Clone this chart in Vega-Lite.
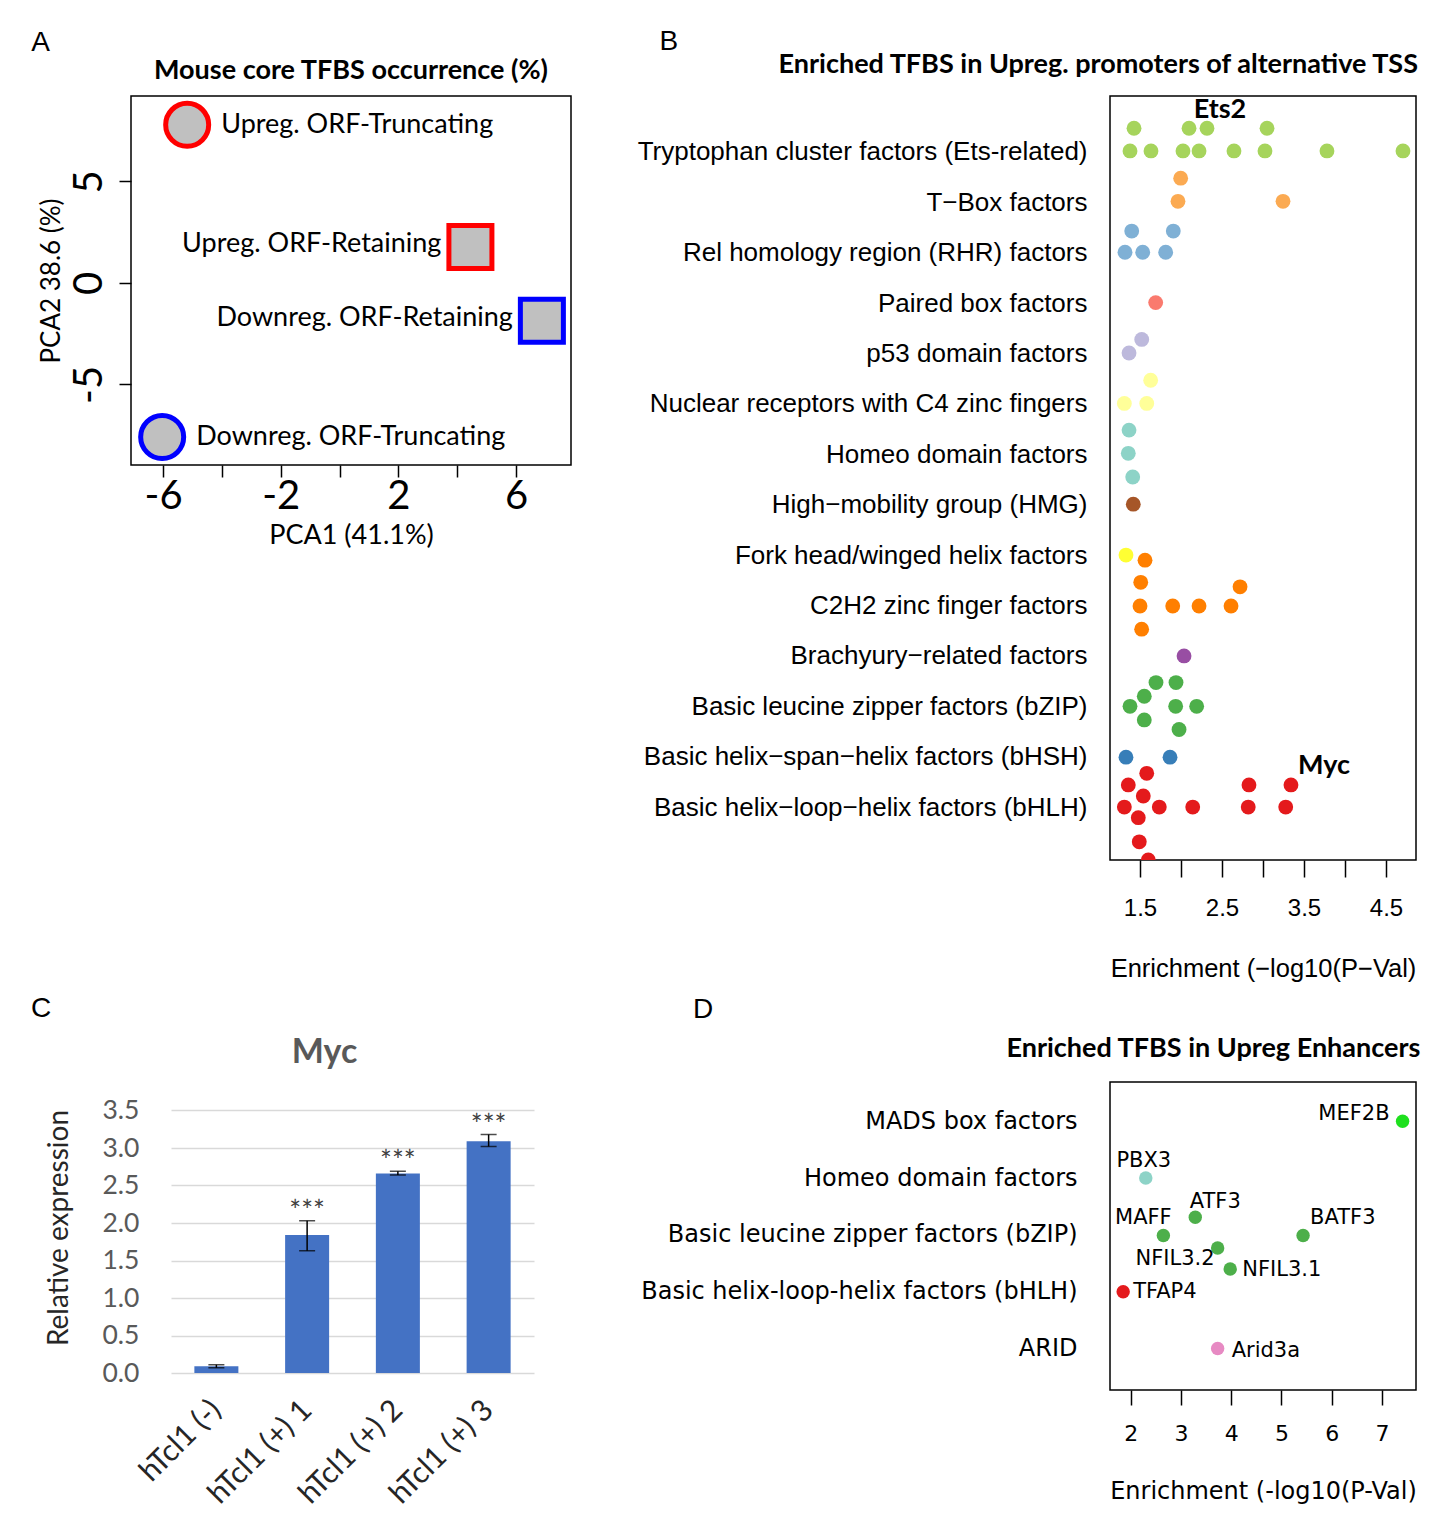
{
  "$schema": "https://vega.github.io/schema/vega-lite/v6.json",
  "background": "white",
  "padding": {"left": 30, "top": 28, "right": 5, "bottom": 5},
  "spacing": 12,
  "resolve": {"scale": {"color": "independent", "shape": "independent", "stroke": "independent"}},
  "datasets": {
    "pca": [
      {"label": "Upreg. ORF-Truncating", "direction": "Upreg", "form": "Truncating", "pc1": -5.18, "pc2": 7.78},
      {"label": "Upreg. ORF-Retaining", "direction": "Upreg", "form": "Retaining", "pc1": 4.45, "pc2": 1.77},
      {"label": "Downreg. ORF-Retaining", "direction": "Downreg", "form": "Retaining", "pc1": 6.88, "pc2": -1.87},
      {"label": "Downreg. ORF-Truncating", "direction": "Downreg", "form": "Truncating", "pc1": -6.03, "pc2": -7.59}
    ],
    "tfbs": [
      {"family": "Tryptophan cluster factors (Ets-related)", "enrich": 1.427, "pos": 14.47},
      {"family": "Tryptophan cluster factors (Ets-related)", "enrich": 2.098, "pos": 14.47},
      {"family": "Tryptophan cluster factors (Ets-related)", "enrich": 2.317, "pos": 14.47, "tf": "Ets2"},
      {"family": "Tryptophan cluster factors (Ets-related)", "enrich": 3.049, "pos": 14.47},
      {"family": "Tryptophan cluster factors (Ets-related)", "enrich": 1.378, "pos": 14.02},
      {"family": "Tryptophan cluster factors (Ets-related)", "enrich": 1.634, "pos": 14.02},
      {"family": "Tryptophan cluster factors (Ets-related)", "enrich": 2.024, "pos": 14.02},
      {"family": "Tryptophan cluster factors (Ets-related)", "enrich": 2.22, "pos": 14.02},
      {"family": "Tryptophan cluster factors (Ets-related)", "enrich": 2.646, "pos": 14.02},
      {"family": "Tryptophan cluster factors (Ets-related)", "enrich": 3.024, "pos": 14.02},
      {"family": "Tryptophan cluster factors (Ets-related)", "enrich": 3.78, "pos": 14.02},
      {"family": "Tryptophan cluster factors (Ets-related)", "enrich": 4.707, "pos": 14.02},
      {"family": "T−Box factors", "enrich": 1.996, "pos": 13.48},
      {"family": "T−Box factors", "enrich": 1.963, "pos": 13.02},
      {"family": "T−Box factors", "enrich": 3.244, "pos": 13.02},
      {"family": "Rel homology region (RHR) factors", "enrich": 1.399, "pos": 12.43},
      {"family": "Rel homology region (RHR) factors", "enrich": 1.906, "pos": 12.43},
      {"family": "Rel homology region (RHR) factors", "enrich": 1.317, "pos": 12.01},
      {"family": "Rel homology region (RHR) factors", "enrich": 1.533, "pos": 12.01},
      {"family": "Rel homology region (RHR) factors", "enrich": 1.813, "pos": 12.01},
      {"family": "Paired box factors", "enrich": 1.691, "pos": 11.01},
      {"family": "p53 domain factors", "enrich": 1.521, "pos": 10.28},
      {"family": "p53 domain factors", "enrich": 1.366, "pos": 10.01},
      {"family": "Nuclear receptors with C4 zinc fingers", "enrich": 1.63, "pos": 9.47},
      {"family": "Nuclear receptors with C4 zinc fingers", "enrich": 1.309, "pos": 9.01},
      {"family": "Nuclear receptors with C4 zinc fingers", "enrich": 1.582, "pos": 9.01},
      {"family": "Homeo domain factors", "enrich": 1.366, "pos": 8.48},
      {"family": "Homeo domain factors", "enrich": 1.357, "pos": 8.02},
      {"family": "Homeo domain factors", "enrich": 1.411, "pos": 7.55},
      {"family": "High−mobility group (HMG)", "enrich": 1.418, "pos": 7.01},
      {"family": "Fork head/winged helix factors", "enrich": 1.329, "pos": 6.0},
      {"family": "C2H2 zinc finger factors", "enrich": 1.561, "pos": 5.9},
      {"family": "C2H2 zinc finger factors", "enrich": 1.509, "pos": 5.46},
      {"family": "C2H2 zinc finger factors", "enrich": 2.72, "pos": 5.37},
      {"family": "C2H2 zinc finger factors", "enrich": 1.5, "pos": 4.99},
      {"family": "C2H2 zinc finger factors", "enrich": 1.899, "pos": 4.99},
      {"family": "C2H2 zinc finger factors", "enrich": 2.22, "pos": 4.99},
      {"family": "C2H2 zinc finger factors", "enrich": 2.61, "pos": 4.99},
      {"family": "C2H2 zinc finger factors", "enrich": 1.52, "pos": 4.53},
      {"family": "Brachyury−related factors", "enrich": 2.037, "pos": 4.0},
      {"family": "Basic leucine zipper factors (bZIP)", "enrich": 1.695, "pos": 3.47},
      {"family": "Basic leucine zipper factors (bZIP)", "enrich": 1.939, "pos": 3.47},
      {"family": "Basic leucine zipper factors (bZIP)", "enrich": 1.552, "pos": 3.2},
      {"family": "Basic leucine zipper factors (bZIP)", "enrich": 1.378, "pos": 3.0},
      {"family": "Basic leucine zipper factors (bZIP)", "enrich": 1.935, "pos": 3.0},
      {"family": "Basic leucine zipper factors (bZIP)", "enrich": 2.191, "pos": 3.0},
      {"family": "Basic leucine zipper factors (bZIP)", "enrich": 1.552, "pos": 2.73},
      {"family": "Basic leucine zipper factors (bZIP)", "enrich": 1.976, "pos": 2.54},
      {"family": "Basic helix−span−helix factors (bHSH)", "enrich": 1.329, "pos": 1.99},
      {"family": "Basic helix−span−helix factors (bHSH)", "enrich": 1.866, "pos": 1.99},
      {"family": "Basic helix−loop−helix factors (bHLH)", "enrich": 1.582, "pos": 1.67},
      {"family": "Basic helix−loop−helix factors (bHLH)", "enrich": 1.357, "pos": 1.44},
      {"family": "Basic helix−loop−helix factors (bHLH)", "enrich": 2.829, "pos": 1.44},
      {"family": "Basic helix−loop−helix factors (bHLH)", "enrich": 3.341, "pos": 1.44, "tf": "Myc"},
      {"family": "Basic helix−loop−helix factors (bHLH)", "enrich": 1.54, "pos": 1.22},
      {"family": "Basic helix−loop−helix factors (bHLH)", "enrich": 1.309, "pos": 1.0},
      {"family": "Basic helix−loop−helix factors (bHLH)", "enrich": 1.735, "pos": 1.0},
      {"family": "Basic helix−loop−helix factors (bHLH)", "enrich": 2.143, "pos": 1.0},
      {"family": "Basic helix−loop−helix factors (bHLH)", "enrich": 2.82, "pos": 1.0},
      {"family": "Basic helix−loop−helix factors (bHLH)", "enrich": 3.277, "pos": 1.0},
      {"family": "Basic helix−loop−helix factors (bHLH)", "enrich": 1.479, "pos": 0.79},
      {"family": "Basic helix−loop−helix factors (bHLH)", "enrich": 1.491, "pos": 0.31},
      {"family": "Basic helix−loop−helix factors (bHLH)", "enrich": 1.601, "pos": -0.05}
    ],
    "expr": [
      {"sample": "hTcl1 (-)", "value": 0.09, "lower": 0.07, "upper": 0.11, "sig": ""},
      {"sample": "hTcl1 (+) 1", "value": 1.84, "lower": 1.63, "upper": 2.03, "sig": "***"},
      {"sample": "hTcl1 (+) 2", "value": 2.66, "lower": 2.64, "upper": 2.69, "sig": "***"},
      {"sample": "hTcl1 (+) 3", "value": 3.09, "lower": 3.02, "upper": 3.18, "sig": "***"}
    ],
    "enh": [
      {"tf": "MEF2B", "family": "MADS box factors", "enrich": 7.41, "pos": 5.0},
      {"tf": "PBX3", "family": "Homeo domain factors", "enrich": 2.3, "pos": 4.0},
      {"tf": "ATF3", "family": "Basic leucine zipper factors (bZIP)", "enrich": 3.285, "pos": 3.31},
      {"tf": "MAFF", "family": "Basic leucine zipper factors (bZIP)", "enrich": 2.65, "pos": 2.99},
      {"tf": "BATF3", "family": "Basic leucine zipper factors (bZIP)", "enrich": 5.43, "pos": 2.99},
      {"tf": "NFIL3.2", "family": "Basic leucine zipper factors (bZIP)", "enrich": 3.73, "pos": 2.77},
      {"tf": "NFIL3.1", "family": "Basic leucine zipper factors (bZIP)", "enrich": 3.98, "pos": 2.4},
      {"tf": "TFAP4", "family": "Basic helix-loop-helix factors (bHLH)", "enrich": 1.85, "pos": 2.0},
      {"tf": "Arid3a", "family": "ARID", "enrich": 3.73, "pos": 1.0}
    ],
    "blank": [{"k": 0}]
  },
  "vconcat": [
    {
      "spacing": 0,
      "resolve": {"scale": {"color": "independent", "shape": "independent", "stroke": "independent"}},
      "hconcat": [
        {"width": 1, "height": 1, "data": {"name": "blank"}, "mark": {"type": "rect", "opacity": 0}, "encoding": {}},
        {
          "spacing": 61,
          "resolve": {"scale": {"color": "independent", "shape": "independent", "stroke": "independent"}},
          "hconcat": [
            {
              "title": {"text": "A", "anchor": "start", "frame": "bounds", "font": "Liberation Sans", "fontSize": 28, "fontWeight": "normal", "dx": -6, "offset": 0},
              "vconcat": [
                {
                  "width": 440, "height": 369,
                  "view": {"stroke": "black", "strokeWidth": 1.5},
                  "title": {"text": "Mouse core TFBS occurrence (%)", "font": "Lato", "fontSize": 27, "fontWeight": "bold", "offset": 8, "anchor": "middle"},
                  "data": {"name": "pca"},
                  "encoding": {
                    "x": {"field": "pc1", "type": "quantitative", "scale": {"domain": [-7.09, 7.87], "nice": false, "zero": false},
                      "axis": {"title": "PCA1 (41.1%)", "values": [-6, -4, -2, 0, 2, 4, 6], "labelExpr": "abs(datum.value) % 4 == 2 ? toString(datum.value) : ''", "domain": false, "tickSize": 12, "tickWidth": 1.5, "labelFont": "Lato", "labelFontSize": 40, "labelPadding": -1, "titleFont": "Lato", "titleFontSize": 27, "titlePadding": 6}},
                    "y": {"field": "pc2", "type": "quantitative", "scale": {"domain": [-8.97, 9.2], "nice": false, "zero": false},
                      "axis": {"title": "PCA2 38.6 (%)", "values": [-5, 0, 5], "labelExpr": "toString(datum.value)", "labelAngle": -90, "labelAlign": "center", "labelBaseline": "bottom", "domain": false, "tickSize": 12, "tickWidth": 1.5, "labelFont": "Lato", "labelFontSize": 40, "labelPadding": 10, "titleFont": "Lato", "titleFontSize": 26, "titlePadding": 5}}
                  },
                  "layer": [
                    {
                      "mark": {"type": "point", "filled": true, "fill": "#c0c0c0", "opacity": 1, "fillOpacity": 1, "size": 1850, "strokeWidth": 5},
                      "encoding": {
                        "shape": {"field": "form", "type": "nominal", "scale": {"domain": ["Truncating", "Retaining"], "range": ["circle", "square"]}, "legend": null},
                        "stroke": {"field": "direction", "type": "nominal", "scale": {"domain": ["Upreg", "Downreg"], "range": ["#ff0000", "#0000ff"]}, "legend": null}
                      }
                    },
                    {
                      "transform": [{"filter": "datum.form == 'Truncating'"}],
                      "mark": {"type": "text", "align": "left", "dx": 34, "font": "Lato", "fontSize": 27, "color": "black"},
                      "encoding": {"text": {"field": "label"}}
                    },
                    {
                      "transform": [{"filter": "datum.form == 'Retaining'"}],
                      "mark": {"type": "text", "align": "right", "dx": -29, "dy": -3, "font": "Lato", "fontSize": 27, "color": "black"},
                      "encoding": {"text": {"field": "label"}}
                    }
                  ]
                }
              ]
            },
            {
              "title": {"text": "B", "anchor": "start", "frame": "bounds", "font": "Liberation Sans", "fontSize": 28, "fontWeight": "normal", "dx": 23, "offset": -6},
              "vconcat": [
                {
                  "width": 306, "height": 764,
                  "view": {"stroke": "black", "strokeWidth": 1.5},
                  "title": {"text": "Enriched TFBS in Upreg. promoters of alternative TSS", "anchor": "end", "font": "Lato", "fontSize": 27, "fontWeight": "bold", "offset": 17, "dx": 2},
                  "data": {"name": "tfbs"},
                  "encoding": {
                    "x": {"field": "enrich", "type": "quantitative", "scale": {"domain": [1.134, 4.866], "nice": false, "zero": false},
                      "axis": {"title": "Enrichment (−log10(P−Val)", "values": [1.5, 2, 2.5, 3, 3.5, 4, 4.5], "labelExpr": "(datum.value * 2) % 2 == 1 ? format(datum.value, '.1f') : ''", "domain": false, "tickSize": 17, "tickWidth": 1.5, "labelFont": "Liberation Sans", "labelFontSize": 24, "labelPadding": 19, "titleFont": "Liberation Sans", "titleFontSize": 25.5, "titlePadding": 36}},
                    "y": {"field": "pos", "type": "quantitative", "scale": {"domain": [-0.05, 15.11], "nice": false, "zero": false},
                      "axis": {"title": null, "values": [1, 2, 3, 4, 5, 6, 7, 8, 9, 10, 11, 12, 13, 14], "labelExpr": "['Basic helix−loop−helix factors (bHLH)','Basic helix−span−helix factors (bHSH)','Basic leucine zipper factors (bZIP)','Brachyury−related factors','C2H2 zinc finger factors','Fork head/winged helix factors','High−mobility group (HMG)','Homeo domain factors','Nuclear receptors with C4 zinc fingers','p53 domain factors','Paired box factors','Rel homology region (RHR) factors','T−Box factors','Tryptophan cluster factors (Ets-related)'][datum.value - 1]", "ticks": false, "domain": false, "labelFont": "Liberation Sans", "labelFontSize": 26, "labelPadding": 23, "labelLimit": 700}}
                  },
                  "layer": [
                    {
                      "mark": {"type": "circle", "size": 220, "opacity": 1, "clip": true},
                      "encoding": {
                        "color": {"field": "family", "type": "nominal", "legend": null, "scale": {
                          "domain": ["Tryptophan cluster factors (Ets-related)", "T−Box factors", "Rel homology region (RHR) factors", "Paired box factors", "p53 domain factors", "Nuclear receptors with C4 zinc fingers", "Homeo domain factors", "High−mobility group (HMG)", "Fork head/winged helix factors", "C2H2 zinc finger factors", "Brachyury−related factors", "Basic leucine zipper factors (bZIP)", "Basic helix−span−helix factors (bHSH)", "Basic helix−loop−helix factors (bHLH)"],
                          "range": ["#a6d45c", "#fbaa52", "#7fb0d5", "#fa7a6e", "#bdb9dc", "#ffff99", "#8dd3c7", "#a65628", "#ffff33", "#ff7f00", "#984ea3", "#4daf4a", "#377eb8", "#e41a1c"]}}
                      }
                    },
                    {
                      "transform": [{"filter": "datum.tf == 'Ets2'"}],
                      "mark": {"type": "text", "align": "center", "dx": 13, "dy": -18, "font": "Lato", "fontSize": 27, "fontWeight": "bold", "color": "black"},
                      "encoding": {"text": {"field": "tf"}}
                    },
                    {
                      "transform": [{"filter": "datum.tf == 'Myc'"}],
                      "mark": {"type": "text", "align": "left", "dx": 7, "dy": -19, "font": "Lato", "fontSize": 27, "fontWeight": "bold", "color": "black"},
                      "encoding": {"text": {"field": "tf"}}
                    }
                  ]
                }
              ]
            }
          ]
        }
      ]
    },
    {
      "spacing": 0,
      "resolve": {"scale": {"color": "independent"}},
      "hconcat": [
        {"width": 1, "height": 1, "data": {"name": "blank"}, "mark": {"type": "rect", "opacity": 0}, "encoding": {}},
        {
          "spacing": 105,
          "resolve": {"scale": {"color": "independent"}},
          "hconcat": [
            {
              "title": {"text": "C", "anchor": "start", "frame": "bounds", "font": "Liberation Sans", "fontSize": 28, "fontWeight": "normal", "dx": -14, "offset": 13},
              "vconcat": [
                {
                  "width": 363, "height": 291,
                  "title": {"text": "Myc", "font": "Lato", "fontSize": 34, "fontWeight": "bold", "color": "#595959", "dx": -28, "offset": 12},
                  "data": {"name": "expr"},
                  "resolve": {"axis": {"y": "independent"}},
                  "encoding": {
                    "x": {"field": "sample", "type": "nominal", "sort": null, "scale": {"paddingInner": 0.515, "paddingOuter": 0.2575},
                      "axis": {"title": null, "labelAngle": -45, "labelAlign": "right", "labelBaseline": "middle", "ticks": false, "domain": false, "labelFont": "Lato", "labelFontSize": 30, "labelPadding": 32, "labelColor": "#262626"}}
                  },
                  "layer": [
                    {
                      "mark": {"type": "bar", "color": "#4472c4"},
                      "encoding": {
                        "y": {"field": "value", "type": "quantitative", "scale": {"domain": [0, 3.88], "nice": false},
                          "axis": {"title": "Relative expression", "values": [0, 0.5, 1, 1.5, 2, 2.5, 3, 3.5], "format": ".1f", "grid": true, "gridColor": "#d9d9d9", "gridWidth": 1.5, "ticks": false, "domain": false, "labelFont": "Lato", "labelFontSize": 26.5, "labelColor": "#595959", "labelPadding": 32, "titleFont": "Lato", "titleFontSize": 28, "titleColor": "#262626", "titlePadding": 29}}
                      }
                    },
                    {
                      "mark": {"type": "rule", "color": "black", "strokeWidth": 1.5},
                      "encoding": {"y": {"field": "lower", "type": "quantitative", "axis": null}, "y2": {"field": "upper"}}
                    },
                    {
                      "mark": {"type": "tick", "color": "black", "thickness": 1.5, "size": 16, "orient": "horizontal"},
                      "encoding": {"y": {"field": "lower", "type": "quantitative", "axis": null}}
                    },
                    {
                      "mark": {"type": "tick", "color": "black", "thickness": 1.5, "size": 16, "orient": "horizontal"},
                      "encoding": {"y": {"field": "upper", "type": "quantitative", "axis": null}}
                    },
                    {
                      "mark": {"type": "text", "baseline": "alphabetic", "font": "Lato", "fontSize": 28, "color": "#404040"},
                      "encoding": {"y": {"field": "upper", "type": "quantitative", "axis": null}, "text": {"field": "sig"}}
                    }
                  ]
                }
              ]
            },
            {
              "title": {"text": "D", "anchor": "start", "frame": "bounds", "font": "Liberation Sans", "fontSize": 28, "fontWeight": "normal", "dx": 53, "offset": 10},
              "vconcat": [
                {
                  "width": 306, "height": 308,
                  "view": {"stroke": "black", "strokeWidth": 1.5},
                  "title": {"text": "Enriched TFBS in Upreg Enhancers", "anchor": "end", "font": "Lato", "fontSize": 27, "fontWeight": "bold", "offset": 19, "dx": 4},
                  "data": {"name": "enh"},
                  "encoding": {
                    "x": {"field": "enrich", "type": "quantitative", "scale": {"domain": [1.588, 7.677], "nice": false, "zero": false},
                      "axis": {"title": "Enrichment (-log10(P-Val)", "values": [2, 3, 4, 5, 6, 7], "domain": false, "tickSize": 15, "tickWidth": 1.5, "labelFont": "DejaVu Sans", "labelFontSize": 22, "labelPadding": 18, "titleFont": "DejaVu Sans", "titleFontSize": 24, "titlePadding": 35}},
                    "y": {"field": "pos", "type": "quantitative", "scale": {"domain": [0.27, 5.69], "nice": false, "zero": false},
                      "axis": {"title": null, "values": [1, 2, 3, 4, 5], "labelExpr": "['ARID','Basic helix-loop-helix factors (bHLH)','Basic leucine zipper factors (bZIP)','Homeo domain factors','MADS box factors'][datum.value - 1]", "ticks": false, "domain": false, "labelFont": "DejaVu Sans", "labelFontSize": 24, "labelPadding": 33, "labelLimit": 700}}
                  },
                  "layer": [
                    {
                      "mark": {"type": "circle", "size": 180, "opacity": 1},
                      "encoding": {
                        "color": {"field": "family", "type": "nominal", "legend": null, "scale": {
                          "domain": ["MADS box factors", "Homeo domain factors", "Basic leucine zipper factors (bZIP)", "Basic helix-loop-helix factors (bHLH)", "ARID"],
                          "range": ["#1ee01e", "#8dd3c7", "#4daf4a", "#e41a1c", "#e78ac3"]}}
                      }
                    },
                    {"transform": [{"filter": "datum.tf == 'MEF2B'"}], "mark": {"type": "text", "align": "right", "dx": -13, "dy": -7, "font": "DejaVu Sans", "fontSize": 21, "color": "black"}, "encoding": {"text": {"field": "tf"}}},
                    {"transform": [{"filter": "datum.tf == 'PBX3'"}], "mark": {"type": "text", "align": "center", "dx": -2, "dy": -17, "font": "DejaVu Sans", "fontSize": 21, "color": "black"}, "encoding": {"text": {"field": "tf"}}},
                    {"transform": [{"filter": "datum.tf == 'ATF3'"}], "mark": {"type": "text", "align": "center", "dx": 20, "dy": -15, "font": "DejaVu Sans", "fontSize": 21, "color": "black"}, "encoding": {"text": {"field": "tf"}}},
                    {"transform": [{"filter": "datum.tf == 'MAFF'"}], "mark": {"type": "text", "align": "center", "dx": -20, "dy": -17, "font": "DejaVu Sans", "fontSize": 21, "color": "black"}, "encoding": {"text": {"field": "tf"}}},
                    {"transform": [{"filter": "datum.tf == 'BATF3'"}], "mark": {"type": "text", "align": "left", "dx": 7, "dy": -17, "font": "DejaVu Sans", "fontSize": 21, "color": "black"}, "encoding": {"text": {"field": "tf"}}},
                    {"transform": [{"filter": "datum.tf == 'NFIL3.2'"}], "mark": {"type": "text", "align": "right", "dx": -3, "dy": 11, "font": "DejaVu Sans", "fontSize": 21, "color": "black"}, "encoding": {"text": {"field": "tf"}}},
                    {"transform": [{"filter": "datum.tf == 'NFIL3.1'"}], "mark": {"type": "text", "align": "left", "dx": 12, "dy": 1, "font": "DejaVu Sans", "fontSize": 21, "color": "black"}, "encoding": {"text": {"field": "tf"}}},
                    {"transform": [{"filter": "datum.tf == 'TFAP4'"}], "mark": {"type": "text", "align": "left", "dx": 10, "dy": 0, "font": "DejaVu Sans", "fontSize": 21, "color": "black"}, "encoding": {"text": {"field": "tf"}}},
                    {"transform": [{"filter": "datum.tf == 'Arid3a'"}], "mark": {"type": "text", "align": "left", "dx": 14, "dy": 2, "font": "DejaVu Sans", "fontSize": 21, "color": "black"}, "encoding": {"text": {"field": "tf"}}}
                  ]
                }
              ]
            }
          ]
        }
      ]
    }
  ],
  "config": {
    "font": "Liberation Sans",
    "view": {"stroke": null},
    "axis": {"labelColor": "black", "titleColor": "black", "tickColor": "black", "titleFontWeight": "normal", "grid": false, "labelOverlap": false, "labelFlush": false},
    "title": {"color": "black"}
  }
}
